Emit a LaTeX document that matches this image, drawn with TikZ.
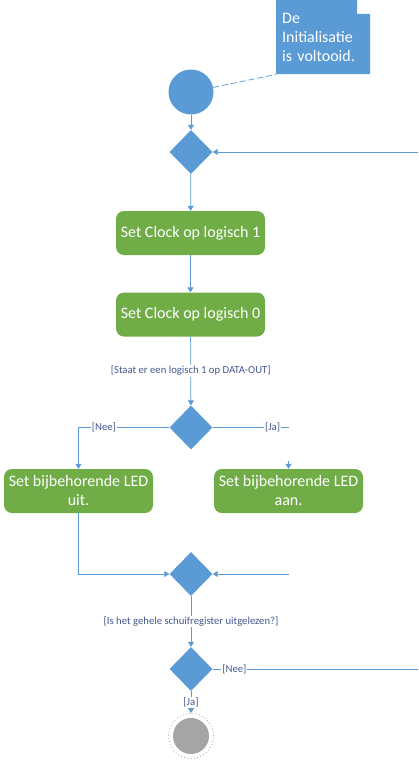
\documentclass[tikz,border=0pt]{standalone}
\usepackage{fontspec}
\setmainfont{Carlito}
\usetikzlibrary{arrows.meta,positioning,shapes.geometric}
\definecolor{vblue}{HTML}{5B9BD5}
\definecolor{vgreen}{HTML}{70AD47}
\definecolor{vlabel}{HTML}{46598F}
\definecolor{vgray}{HTML}{A5A5A5}
\tikzset{
    %Define standard arrow tip
    >={Triangle[length=5pt,width=6pt]},
    %Define style for start and decision nodes
    startpunt/.style={
           circle,
           fill=vblue,
           minimum size=45pt,
           inner sep=0pt},
    keuze/.style={
           diamond,
           fill=vblue,
           minimum width=43pt,
           minimum height=44pt,
           inner sep=0pt},
    %Define style for action boxes
    actie/.style={
           rectangle,
           rounded corners=8pt,
           fill=vgreen,
           text=white,
           minimum width=149pt,
           minimum height=44pt,
           inner sep=2pt,
           align=center,
           font=\fontsize{16}{19}\selectfont},
    eindpunt/.style={
           circle,
           draw=vgray, line width=0.8pt,
           dash pattern=on 0.8pt off 2.5pt,
           minimum size=45pt,
           inner sep=0pt},
    % Define arrow style
    pil/.style={
           ->,
           draw=vblue,
           line width=0.75pt},
    voorwaarde/.style={
           fill=white,
           text=vlabel,
           inner sep=1pt,
           font=\fontsize{10.7}{12}\selectfont}
}
\begin{document}
\begin{tikzpicture}[x=1pt,y=-1pt]
\clip (0,0) rectangle (418,760);
\useasboundingbox (0,0) rectangle (418,760);

 %note
\fill[vblue] (276,0) -- (357,0) -- (357,14) -- (370,14) -- (370,74) -- (276,74) -- cycle;
\node[anchor=north west, minimum width=94pt, minimum height=74pt, inner xsep=6pt,
  text width=82pt, align=left, text=white, font=\fontsize{16}{19}\selectfont]
  (notitie) at (276,0) {De\\Initialisatie\\is voltooid.};

 %nodes
\node[startpunt] (start) at (191,92) {};
\node[keuze] (k1) at (191,152) {};
\node[actie] (klok1) at (190.5,233) {Set Clock op logisch 1};
\node[actie] (klok0) at (190.5,314.5) {Set Clock op logisch 0};
\node[keuze] (k2) at (191,427.5) {};
\node[actie] (uit) at (78.5,491) {Set bijbehorende LED\\uit.};
\node[actie] (aan) at (288.5,491) {Set bijbehorende LED\\aan.};
\node[keuze] (k3) at (191,574) {};
\node[keuze] (k4) at (191,669) {};
\node[eindpunt] (eind) at (191,736) {};
\fill[vgray] (eind) circle (18pt);

\coordinate (jaEinde) at (288.5,427.5);
\coordinate (jaStub) at (288.5,461);
\coordinate (aanEinde) at (288.5,574);
\coordinate (terugOnder) at (430,669);
\coordinate (terugBoven) at (430,152);

 %connectors
\draw[vblue, line width=0.75pt, dash pattern=on 6pt off 3pt] (start) -- (notitie.south west);
\path[every edge/.style={pil}]
    (start) edge (k1)
    (k1) edge (klok1)
    (klok1) edge (klok0)
    (klok0) edge node[voorwaarde] {[Staat er een logisch 1 op DATA-OUT]} (k2)
    (k3) edge node[voorwaarde] {[Is het gehele schuifregister uitgelezen?]} (k4)
    (k4) edge node[voorwaarde] {[Ja]} (eind)
    (jaStub) edge (aan.north)
    (aanEinde) edge (k3.east);
\draw[pil] (k2.west) -| node[voorwaarde, pos=0.36] {[Nee]} (uit.north);
\draw[vblue, line width=0.75pt] (k2.east) -- node[voorwaarde, pos=0.79] {[Ja]} (jaEinde);
\draw[pil] (uit.south) |- (k3.west);
\draw[pil] (k4.east) -- node[voorwaarde, pos=0.1] {[Nee]} (terugOnder)
    -- (terugBoven) -- (k1.east);

\end{tikzpicture}
\end{document}
